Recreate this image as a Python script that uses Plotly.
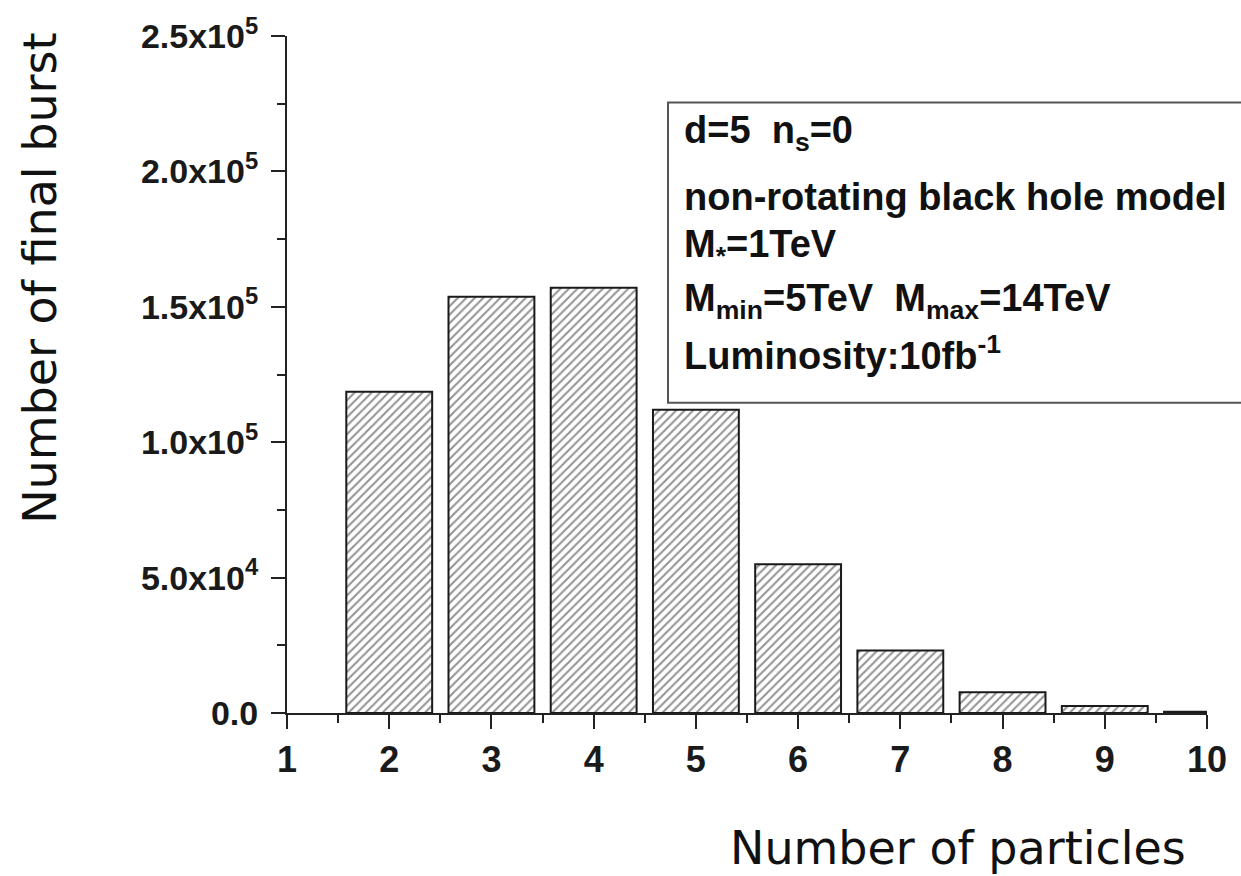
import plotly.graph_objects as go

particles = [2, 3, 4, 5, 6, 7, 8, 9, 10]
bursts = [118600, 153700, 157000, 112000, 54900, 23100, 7700, 2600, 500]

y_tickvals = [0, 50000, 100000, 150000, 200000, 250000]
y_ticktext = ["0.0", "5.0x10<sup>4</sup>", "1.0x10<sup>5</sup>", "1.5x10<sup>5</sup>",
              "2.0x10<sup>5</sup>", "2.5x10<sup>5</sup>"]
x_tickvals = [1, 2, 3, 4, 5, 6, 7, 8, 9, 10]

info_lines = [
    "d=5  n<sub>s</sub>=0",
    "non-rotating black hole model",
    "M<sub>*</sub>=1TeV",
    "M<sub>min</sub>=5TeV  M<sub>max</sub>=14TeV",
    "Luminosity:10fb<sup>-1</sup>",
]

W, H = 1241, 876
L, R, T, B = 287, 34, 30, 163
pw, ph = W - L - R, H - T - B

def px(xp):
    return (xp - L) / pw

def py(yp):
    return (H - B - yp) / ph

fig = go.Figure()
fig.add_trace(go.Bar(
    x=particles, y=bursts, width=0.84,
    marker=dict(color="white",
                line=dict(color="#1a1a1a", width=2),
                pattern=dict(shape="/", size=6, solidity=0.35,
                             fgcolor="#2a2a2a", bgcolor="white")),
    showlegend=False,
))

fig.update_layout(
    width=W, height=H,
    margin=dict(l=L, r=R, t=T, b=B),
    paper_bgcolor="white", plot_bgcolor="white",
    xaxis=dict(range=[1, 10], tickvals=x_tickvals, showline=True, linecolor="#222",
               linewidth=2, ticks="outside", ticklen=14, tickwidth=2, tickcolor="#222",
               showgrid=False, zeroline=False,
               tickfont=dict(family="Liberation Sans", size=36, color="#1a1a1a", weight="bold"),
               minor=dict(dtick=0.5, ticks="outside", ticklen=8, tickwidth=2, tickcolor="#222",
                          showgrid=False)),
    yaxis=dict(range=[0, 250000], tickvals=y_tickvals, ticktext=y_ticktext, showline=True,
               linecolor="#222", linewidth=2, ticks="outside", ticklen=14, tickwidth=2,
               tickcolor="#222", showgrid=False, zeroline=False, ticklabelstandoff=6,
               tickfont=dict(family="Liberation Sans", size=34, color="#1a1a1a", weight="bold"),
               minor=dict(dtick=25000, ticks="outside", ticklen=8, tickwidth=2,
                          tickcolor="#222", showgrid=False)),
)

# info box
fig.add_shape(type="rect", xref="paper", yref="paper",
              x0=px(668), x1=px(1250), y0=py(400), y1=py(97),
              line=dict(color="#555", width=2), fillcolor="white", layer="above")

line_y = [128, 192, 243, 297, 350]
for txt, yy in zip(info_lines, line_y):
    fig.add_annotation(xref="paper", yref="paper", x=px(682), y=py(yy),
                       xanchor="left", yanchor="middle", text="<b>" + txt + "</b>",
                       showarrow=False,
                       font=dict(family="Liberation Sans", size=38, color="#111"))

fig.add_annotation(xref="paper", yref="paper", x=px(958), y=py(849),
                   xanchor="center", yanchor="middle", text="Number of particles",
                   showarrow=False, font=dict(family="DejaVu Sans", size=46, color="#111"))
fig.add_annotation(xref="paper", yref="paper", x=px(40), y=py(275),
                   xanchor="center", yanchor="middle", text="Number of final burst",
                   textangle=-90, showarrow=False,
                   font=dict(family="DejaVu Sans", size=46, color="#111"))

fig.write_html("out.html", config={"displayModeBar": False},
               post_script="document.body.style.margin='0';document.body.style.overflow='hidden';")
